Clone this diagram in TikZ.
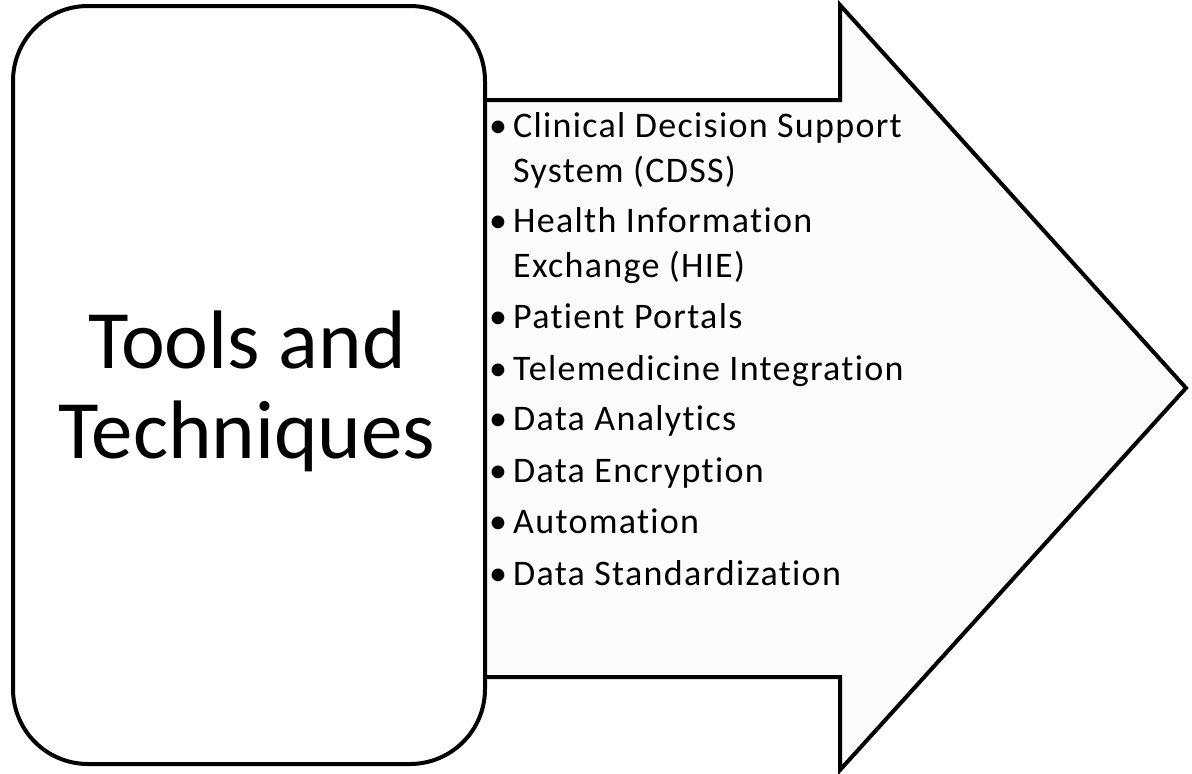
\documentclass[tikz,border=0pt]{standalone}
\usepackage{fontspec}
\setmainfont[Ligatures=NoCommon]{Carlito}
\newfontfamily\itemfont[LetterSpace=3.6,Ligatures=NoCommon]{Carlito}
\definecolor{arrowfill}{HTML}{FCFCFC}
\begin{document}
\begin{tikzpicture}[x=1pt,y=-1pt,
  outline/.style={draw=black,line width=4pt},
  bigtext/.style={font=\fontsize{83}{90}\selectfont,anchor=base,inner sep=0pt},
  itemtext/.style={font=\itemfont\fontsize{36}{45}\selectfont,anchor=base west,inner sep=0pt},
  bullet/.style={font=\fontsize{36}{45}\selectfont,anchor=base west,inner sep=0pt}]
\useasboundingbox (0,0) rectangle (1192,774);
\fill[white] (0,0) rectangle (1192,774);
% arrow
\draw[outline,fill=arrowfill,line join=miter]
  (470,100) -- (840,100) -- (840,5) -- (1186,388) -- (840,770) -- (840,677) -- (470,677) -- cycle;
% rounded box
\node[outline,fill=white,rounded corners=75pt,minimum width=472pt,minimum height=758pt,inner sep=0pt] (box) at (249,385) {};
\node[bigtext] (t1) at (247,368) {Tools and};
\node[bigtext] (t2) at (247,458) {Techniques};
% items
\foreach \y/\txt [count=\i] in {
  137/{Clinical Decision Support},
  232/{Health Information},
  328/{Patient Portals},
  380/{Telemedicine Integration},
  430/{Data Analytics},
  482/{Data Encryption},
  533/{Automation},
  585/{Data Standardization}}{
  \node[bullet] (b\i) at (489,\y) {•};
  \node[itemtext] (i\i) at (513,\y) {\txt};
}
\node[itemtext] (i1b) at (513,182) {System (CDSS)};
\node[itemtext] (i2b) at (513,277) {Exchange (HIE)};
\end{tikzpicture}
\end{document}
